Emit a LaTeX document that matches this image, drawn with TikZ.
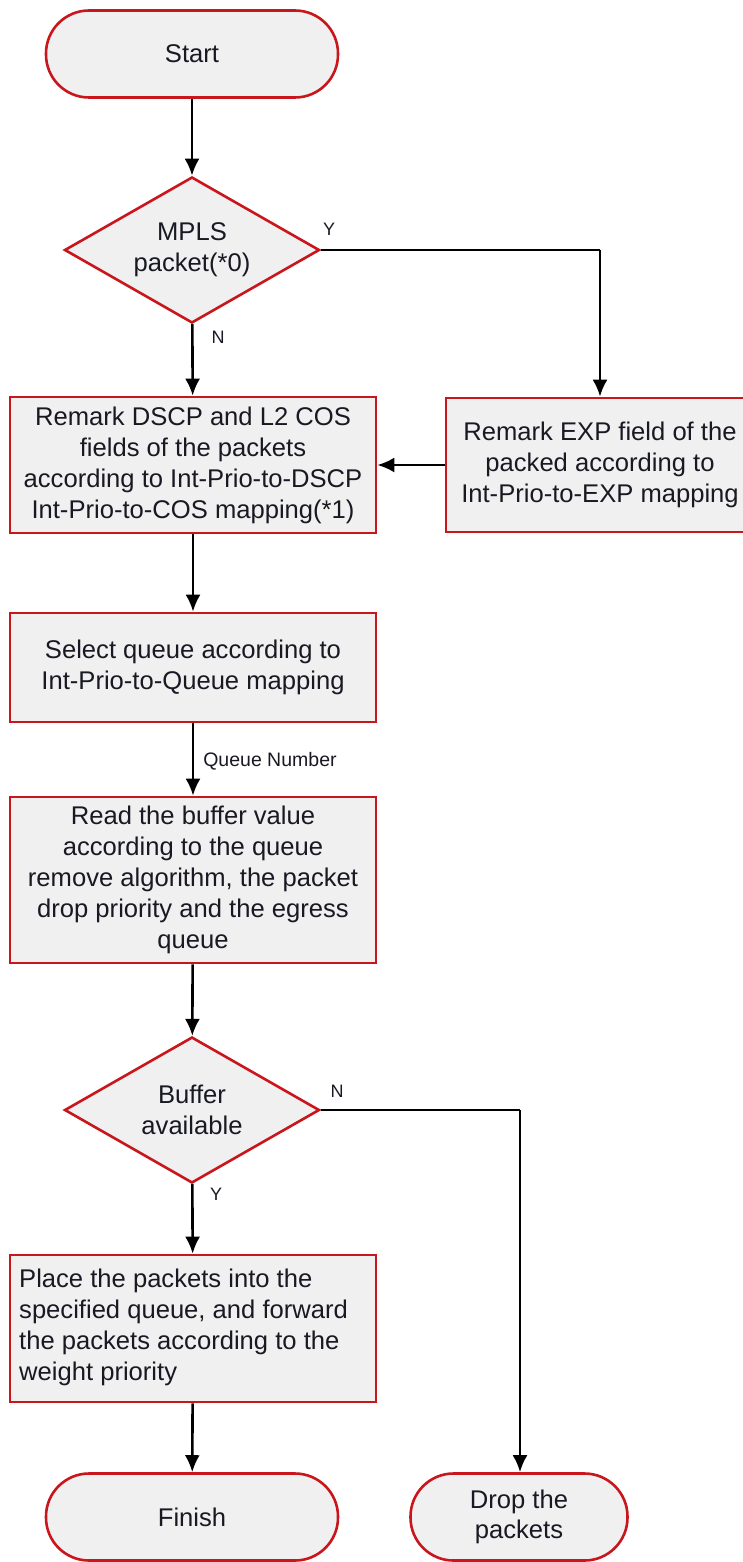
\documentclass[tikz,border=0pt]{standalone}
\usepackage{fontspec}
\setmainfont{Liberation Sans}
\usetikzlibrary{shapes.geometric,arrows.meta}
\definecolor{boxred}{RGB}{200,22,28}
\definecolor{boxfill}{RGB}{240,240,240}
\definecolor{txt}{RGB}{25,25,35}
\begin{document}
\begin{tikzpicture}[x=1pt,y=-1pt,
  every node/.style={text=txt},
  procbox/.style={draw=boxred, fill=boxfill, line width=2.6pt, rectangle, align=center,
    font=\fontsize{25.6}{31}\selectfont, inner sep=0pt},
  termbox/.style={draw=boxred, fill=boxfill, line width=2.6pt, rectangle, rounded corners=43pt,
    align=center, font=\fontsize{25.6}{30}\selectfont, inner sep=0pt, minimum height=87pt},
  decbox/.style={draw=boxred, fill=boxfill, line width=2.6pt, diamond, aspect=1.72,
    align=center, font=\fontsize{25.6}{31}\selectfont, inner sep=0pt,
    minimum width=255pt, minimum height=146pt},
  lbl/.style={font=\fontsize{18}{20}\selectfont, inner sep=0pt},
  conn/.style={line width=2.6pt, -{Latex[length=17pt,width=15pt]}},
  plain/.style={line width=2.6pt}]
\useasboundingbox (0,0) rectangle (742,1562);

\node[termbox, minimum width=292pt] (start) at (192,54) {Start};
\node[decbox] (mpls) at (192,250) {MPLS\\packet(*0)};
\node[procbox, minimum width=366pt, minimum height=136pt] (dscp) at (193,465)
  {Remark DSCP and L2 COS\\fields of the packets\\according to Int-Prio-to-DSCP\\Int-Prio-to-COS mapping(*1)};
\node[procbox, minimum width=308pt, minimum height=134pt] (exp) at (600,465)
  {Remark EXP field of the\\packed according to\\Int-Prio-to-EXP mapping};
\node[procbox, minimum width=366pt, minimum height=109pt] (queue) at (193,667.5)
  {Select queue according to\\Int-Prio-to-Queue mapping};
\node[procbox, minimum width=366pt, minimum height=166pt] (buf) at (193,880)
  {Read the buffer value\\according to the queue\\remove algorithm, the packet\\drop priority and the egress\\queue};
\node[decbox] (avail) at (192,1110) {Buffer\\available};
\node[procbox, minimum width=366pt, minimum height=147pt] (place) at (193,1328.5) {};
\node[anchor=west, align=left, font=\fontsize{25.6}{31}\selectfont, inner sep=0pt] (placetxt) at (19,1327)
  {Place the packets into the\\specified queue, and forward\\the packets according to the\\weight priority};
\node[termbox, minimum width=292pt] (finish) at (192,1517) {Finish};
\node[termbox, minimum width=217pt] (drop) at (519,1517) {Drop the\\packets};

\coordinate (c1) at (600,250);
\coordinate (c2) at (520,1110);

\draw[conn] (start) -- (mpls);
\draw[conn] (mpls) -- (dscp);
\draw[plain] (mpls.east) -- (c1);
\draw[conn] (c1) -- (exp.north -| c1);
\draw[conn] (exp.west) -- (dscp.east);
\draw[conn] (dscp) -- (queue);
\draw[conn] (queue) -- node[lbl, anchor=west, xshift=9pt, yshift=-2pt, font=\fontsize{19.5}{22}\selectfont] (qn) {Queue Number} (buf);
\draw[conn] (buf) -- (avail);
\draw[conn] (avail) -- (place);
\draw[conn] (place) -- (finish);
\draw[plain] (avail.east) -- (c2);
\draw[conn] (c2) -- (drop.north -| c2);

\node[lbl] (ylab1) at (329,229) {Y};
\node[lbl] (nlab1) at (218,337) {N};
\node[lbl] (nlab2) at (337,1091) {N};
\node[lbl] (ylab2) at (216,1194) {Y};
\end{tikzpicture}
\end{document}
